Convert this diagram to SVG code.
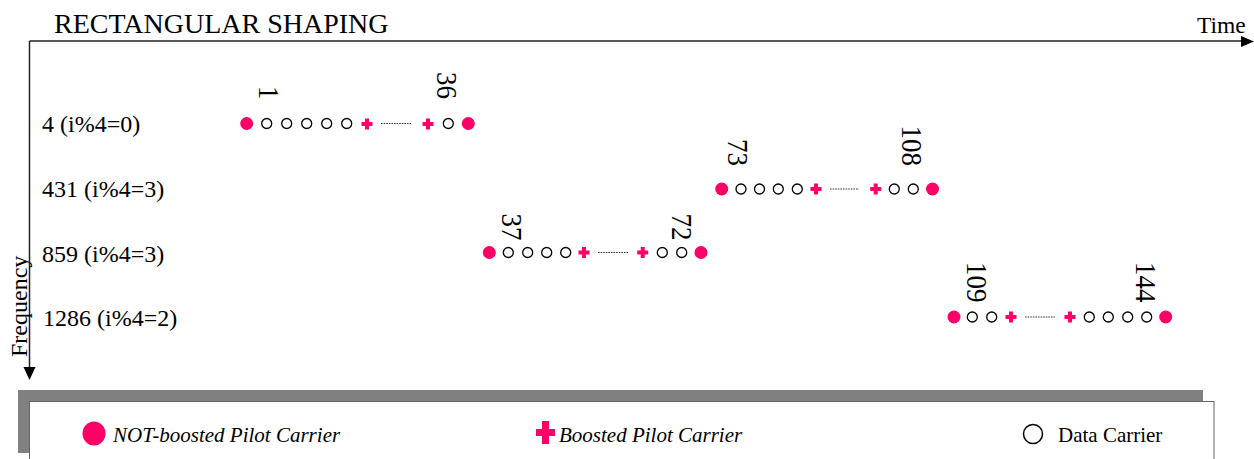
<svg xmlns="http://www.w3.org/2000/svg" width="1254" height="459" viewBox="0 0 1254 459">
<style>
text{font-family:"Liberation Serif","Times New Roman",serif;fill:#000}
.title{font-size:28px}
.lbl{font-size:24px}
.num{font-size:27px}
.leg{font-size:21px}
.it{font-style:italic}
.np{fill:#FF0066}
.dc{fill:#fff;stroke:#000;stroke-width:1.3}
.bp{fill:#FF0066}
.ax{stroke:#222;stroke-width:1.5;fill:none}
.dot{stroke:#333;stroke-width:1;stroke-dasharray:1.6 1;fill:none}
</style>
<defs>
<circle id="np" r="6.5" class="np"/>
<circle id="dc" r="5" class="dc"/>
<path id="bp" class="bp" d="M-2,-5.5H2V-2H5.5V2H2V5.5H-2V2H-5.5V-2H-2Z"/>
</defs>
<rect width="1254" height="459" fill="#fff"/>
<text class="title" x="54" y="33">RECTANGULAR SHAPING</text>
<g id="axes">
<line class="ax" x1="29.5" y1="41" x2="1242" y2="41"/>
<polygon points="1241,36 1254,41.5 1241,47" fill="#000"/>
<line class="ax" x1="29.5" y1="41" x2="29.5" y2="368"/>
<polygon points="23.5,367 35.5,367 29.5,380" fill="#000"/>
<text class="lbl" x="1197" y="33" style="font-size:23.5px">Time</text>
<text class="lbl" transform="translate(27,357) rotate(-90)">Frequency</text>
</g>
<g id="row-labels">
<text class="lbl" x="42" y="132">4 (i%4=0)</text>
<text class="lbl" x="42" y="197">431 (i%4=3)</text>
<text class="lbl" x="42" y="262">859 (i%4=3)</text>
<text class="lbl" x="43" y="326">1286 (i%4=2)</text>
</g>
<g id="connectors">
<line class="dot" x1="381" y1="123.5" x2="411" y2="123.5"/>
<line class="dot" x1="830" y1="189" x2="859" y2="189"/>
<line class="dot" x1="598" y1="252.5" x2="628" y2="252.5"/>
<line class="dot" x1="1025" y1="317" x2="1055" y2="317"/>
</g>
<g id="row1">
<use href="#np" x="246.7" y="123.5"/>
<use href="#dc" x="266.7" y="123.5"/>
<use href="#dc" x="286.7" y="123.5"/>
<use href="#dc" x="306.7" y="123.5"/>
<use href="#dc" x="326.7" y="123.5"/>
<use href="#dc" x="346.7" y="123.5"/>
<use href="#bp" x="367" y="124"/>
<use href="#bp" x="428" y="124"/>
<use href="#dc" x="448.3" y="123.5"/>
<use href="#np" x="468.3" y="123.5"/>
<text class="num" text-anchor="end" transform="translate(259,99.5) rotate(90) scale(1,1.1)">1</text>
<text class="num" text-anchor="end" transform="translate(437,99) rotate(90) scale(1,1.1)">36</text>
</g>
<g id="row2">
<use href="#np" x="721.7" y="189"/>
<use href="#dc" x="741" y="189"/>
<use href="#dc" x="759.5" y="189"/>
<use href="#dc" x="778.3" y="189"/>
<use href="#dc" x="797.3" y="189"/>
<use href="#bp" x="816" y="189"/>
<use href="#bp" x="875.7" y="189"/>
<use href="#dc" x="894.3" y="189"/>
<use href="#dc" x="913.3" y="189"/>
<use href="#np" x="932.5" y="189"/>
<text class="num" text-anchor="end" transform="translate(728,166) rotate(90) scale(1,1.1)">73</text>
<text class="num" text-anchor="end" transform="translate(902,166) rotate(90) scale(1,1.1)">108</text>
</g>
<g id="row3">
<use href="#np" x="489.3" y="252.5"/>
<use href="#dc" x="508.3" y="252.5"/>
<use href="#dc" x="527.7" y="252.5"/>
<use href="#dc" x="546.7" y="252.5"/>
<use href="#dc" x="565.7" y="252.5"/>
<use href="#bp" x="584" y="252.5"/>
<use href="#bp" x="642.7" y="252.5"/>
<use href="#dc" x="662.3" y="252.5"/>
<use href="#dc" x="681.7" y="252.5"/>
<use href="#np" x="701" y="252.5"/>
<text class="num" text-anchor="end" transform="translate(502,240.5) rotate(90) scale(1,1.1)">37</text>
<text class="num" text-anchor="end" transform="translate(672,240.5) rotate(90) scale(1,1.1)">72</text>
</g>
<g id="row4">
<use href="#np" x="954" y="317"/>
<use href="#dc" x="972.3" y="317"/>
<use href="#dc" x="991.7" y="317"/>
<use href="#bp" x="1011" y="317"/>
<use href="#bp" x="1070" y="317"/>
<use href="#dc" x="1089.3" y="317"/>
<use href="#dc" x="1108.3" y="317"/>
<use href="#dc" x="1127.7" y="317"/>
<use href="#dc" x="1146.7" y="317"/>
<use href="#np" x="1165.7" y="317"/>
<text class="num" text-anchor="end" transform="translate(967,302.5) rotate(90) scale(1,1.1)">109</text>
<text class="num" text-anchor="end" transform="translate(1136,302.5) rotate(90) scale(1,1.1)">144</text>
</g>
<g id="legend">
<rect x="18" y="390" width="1185" height="63" fill="#808080"/>
<rect x="29.5" y="401.5" width="1184.5" height="70" fill="#fff" stroke="#666" stroke-width="1"/>
<ellipse cx="94" cy="433.5" rx="11.5" ry="12" class="np"/>
<text class="leg it" x="113" y="441.5">NOT-boosted Pilot Carrier</text>
<path class="bp" d="M542,421H549V429H555V436H549V444H542V436H536V429H542Z"/>
<text class="leg it" x="559" y="441.5">Boosted Pilot Carrier</text>
<circle cx="1033" cy="434" r="9.5" fill="#fff" stroke="#000" stroke-width="1.5"/>
<text class="leg" x="1058" y="441.5">Data Carrier</text>
</g>
</svg>
